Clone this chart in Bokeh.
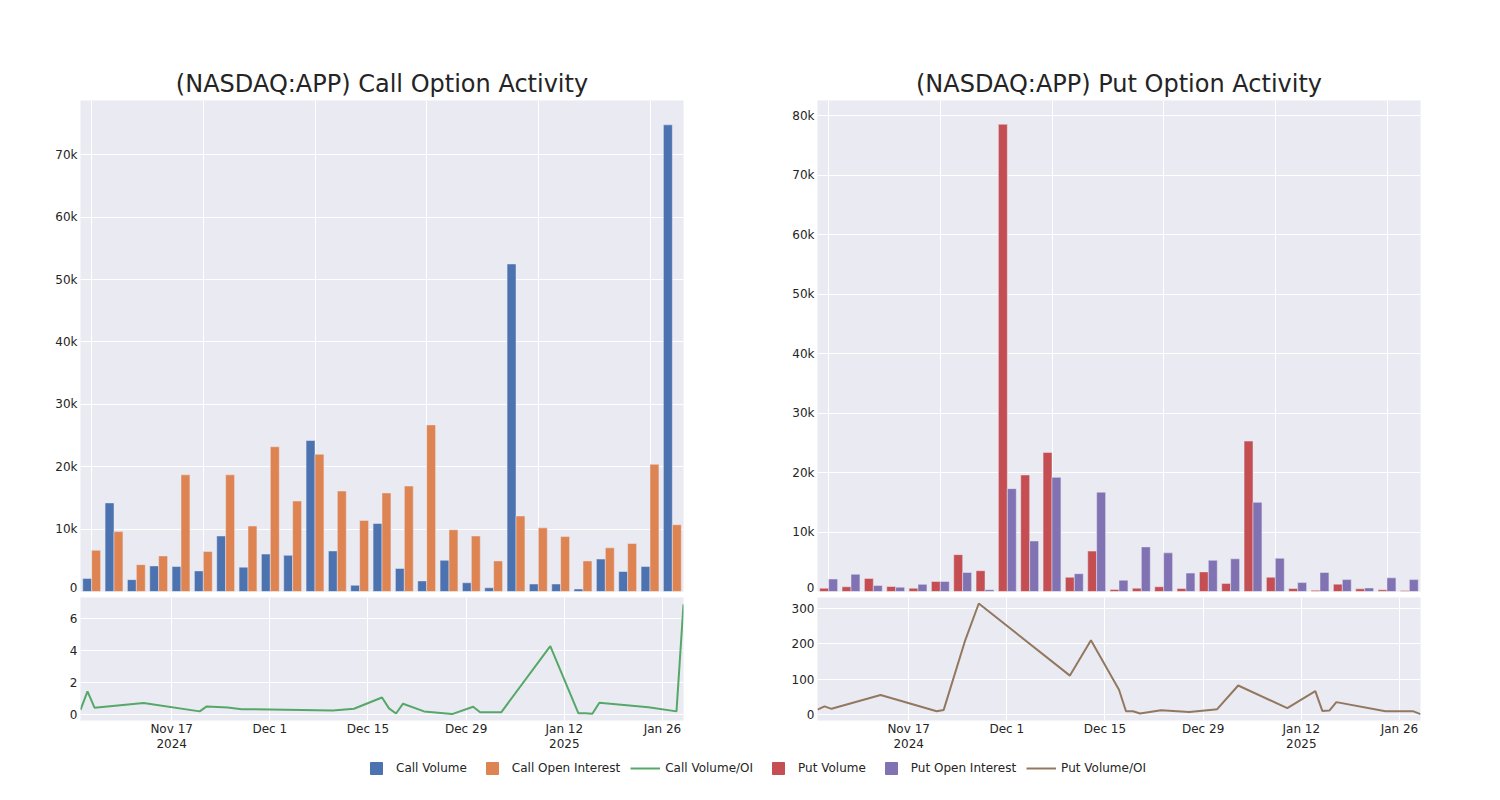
import pandas as pd
from bokeh.plotting import figure
from bokeh.models import (Range1d, FixedTicker, SingleIntervalTicker, NumeralTickFormatter,
                          Legend, LegendItem, ColumnDataSource)
from bokeh.layouts import column, row
from bokeh.transform import dodge
from bokeh.embed import file_html
from bokeh.resources import INLINE

# ---------------- data ----------------
dates = ["2024-11-04", "2024-11-05", "2024-11-06", "2024-11-13", "2024-11-21", "2024-11-22",
         "2024-11-25", "2024-11-27", "2024-12-10", "2024-12-13", "2024-12-17", "2024-12-18",
         "2024-12-19", "2024-12-20", "2024-12-23", "2024-12-27", "2024-12-30", "2024-12-31",
         "2025-01-03", "2025-01-10", "2025-01-14", "2025-01-15", "2025-01-16", "2025-01-17",
         "2025-01-24", "2025-01-28", "2025-01-29"]

call_volume = [2100, 14200, 1900, 4100, 4000, 3300, 8900, 3900, 6000, 5800, 24200, 6500, 1000, 10900,
               3700, 1700, 5000, 1400, 600, 52500, 1200, 1200, 400, 5200, 3200, 4000, 74800]
call_oi = [6600, 9600, 4300, 5700, 18700, 6400, 18700, 10500, 23200, 14500, 22000, 16100, 11400, 15800,
           16900, 26700, 9900, 8900, 4900, 12100, 10200, 8800, 4900, 7000, 7700, 20400, 10700]
call_ratio = [0.31, 1.46, 0.44, 0.73, 0.21, 0.52, 0.46, 0.35, 0.27, 0.375, 1.08, 0.40, 0.08, 0.69,
              0.21, 0.04, 0.50, 0.15, 0.15, 4.29, 0.10, 0.10, 0.06, 0.75, 0.47, 0.21, 6.90]

put_volume = [560, 800, 2200, 840, 560, 1700, 6200, 3500, 78600, 19600, 23400, 2400, 6800, 340,
              560, 800, 500, 3300, 1360, 25300, 2400, 500, 200, 1240, 450, 280, 170]
put_oi = [2100, 2900, 1000, 730, 1200, 1700, 3200, 300, 17300, 8500, 19200, 3000, 16700, 1900,
          7500, 6500, 3100, 5250, 5500, 15000, 5600, 1500, 3200, 2000, 600, 2300, 2000]
put_ratio = [14, 23, 16, 55, 9, 13, 206, 314, 110, 210, 70, 9, 9, 3,
             12, 7, 13, 15, 82, 18, 66, 10, 11, 35, 9, 9, 1]

tick_dates = ["2024-11-17", "2024-12-01", "2024-12-15", "2024-12-29", "2025-01-12", "2025-01-26"]
tick_labels = ["Nov 17\n2024", "Dec 1", "Dec 15", "Dec 29", "Jan 12\n2025", "Jan 26"]

series_names = ["Call Volume", "Call Open Interest", "Call Volume/OI",
                "Put Volume", "Put Open Interest", "Put Volume/OI"]
colors = ["#4C72B0", "#DD8452", "#55A868", "#C44E52", "#8172B3", "#937860"]

titles = ["(NASDAQ:APP) Call Option Activity", "(NASDAQ:APP) Put Option Activity"]

# ---------------- sources ----------------
src = ColumnDataSource(dict(
    idx=list(range(len(dates))),
    date=pd.to_datetime(dates),
    call_volume=call_volume, call_oi=call_oi, call_ratio=call_ratio,
    put_volume=put_volume, put_oi=put_oi, put_ratio=put_ratio,
))

FONT = "DejaVu Sans"
TXT = "#242424"
BG = "#EAEAF2"

tick_ms = [pd.Timestamp(d).value / 1e6 for d in tick_dates]


def style(p):
    p.background_fill_color = BG
    p.border_fill_color = "white"
    p.outline_line_color = None
    for g in p.grid:
        g.grid_line_color = "white"
        g.grid_line_width = 1
    for ax in p.axis:
        ax.axis_line_color = None
        ax.major_tick_line_color = None
        ax.minor_tick_line_color = None
        ax.major_tick_in = 0
        ax.major_tick_out = 0
        ax.minor_tick_in = 0
        ax.minor_tick_out = 0
        ax.major_label_text_font = FONT
        ax.major_label_text_font_size = "12px"
        ax.major_label_text_color = TXT
        ax.major_label_standoff = 3


def bar_fig(title, ycol1, ycol2, c1, c2, ymax, left, right):
    frame_w = 603
    p = figure(width=left + frame_w + right, height=100 + 491 + 3,
               x_range=Range1d(-0.5, len(dates) - 0.5), y_range=Range1d(0, ymax),
               min_border_left=left, min_border_right=right, min_border_top=100, min_border_bottom=3,
               toolbar_location=None, output_backend="svg", title=title)
    p.vbar(x=dodge("idx", -0.2), top=ycol1, width=0.4, source=src,
           fill_color=c1, line_color=BG, line_width=0.5)
    p.vbar(x=dodge("idx", 0.2), top=ycol2, width=0.4, source=src,
           fill_color=c2, line_color=BG, line_width=0.5)
    p.xaxis.ticker = FixedTicker(ticks=[0, 5, 10, 15, 20, 25])
    p.xaxis.visible = False
    p.yaxis.ticker = SingleIntervalTicker(interval=10000)
    p.yaxis.formatter = NumeralTickFormatter(format="0a")
    style(p)
    p.title.align = "center"
    p.title.text_font = FONT
    p.title.text_font_size = "24px"
    p.title.text_font_style = "normal"
    p.title.text_color = TXT
    p.title.standoff = 5
    return p


def line_fig(ycol, c, yrange, interval, left, right):
    frame_w = 603
    p = figure(width=left + frame_w + right, height=3 + 123 + 33,
               x_axis_type="datetime",
               x_range=Range1d(pd.Timestamp(dates[0]), pd.Timestamp(dates[-1])),
               y_range=Range1d(*yrange),
               min_border_left=left, min_border_right=right, min_border_top=3, min_border_bottom=33,
               toolbar_location=None, output_backend="svg")
    p.line(x="date", y=ycol, source=src, line_color=c, line_width=2)
    p.xaxis.ticker = FixedTicker(ticks=tick_ms)
    p.xaxis.major_label_overrides = dict(zip(tick_ms, tick_labels))
    p.yaxis.ticker = SingleIntervalTicker(interval=interval)
    style(p)
    p.xaxis.major_label_text_line_height = 1.08
    p.xaxis.major_label_standoff = 1
    return p


LEFT_L, RIGHT_L = 80, 10
LEFT_R, RIGHT_R = 124, 20

barL = bar_fig(titles[0], "call_volume", "call_oi", colors[0], colors[1], 78700, LEFT_L, RIGHT_L)
lineL = line_fig("call_ratio", colors[2], (-0.36, 7.33), 2, LEFT_L, RIGHT_L)
barR = bar_fig(titles[1], "put_volume", "put_oi", colors[3], colors[4], 82600, LEFT_R, RIGHT_R)
lineR = line_fig("put_ratio", colors[5], (-17, 331), 100, LEFT_R, RIGHT_R)

# ---------------- legend strip ----------------
total_w = barL.width + barR.width
lf = figure(width=total_w, height=30, x_range=Range1d(0, 1), y_range=Range1d(0, 1),
            x_axis_location=None, y_axis_location=None, min_border=0,
            toolbar_location=None, output_backend="svg", outline_line_color=None)
lf.grid.visible = False
nan = float("nan")
items = []
for name, col in zip(series_names, colors):
    if name.endswith("/OI"):
        r = lf.line(x=[nan], y=[nan], line_color=col, line_width=2)
    else:
        r = lf.scatter(x=[nan], y=[nan], marker="square", size=12, fill_color=col, line_color=col)
    items.append(LegendItem(label=name, renderers=[r]))
legend = Legend(items=items, orientation="horizontal", location=(361, 0),
                glyph_width=30, glyph_height=30, label_standoff=5, spacing=10,
                padding=0, margin=0, border_line_color=None, background_fill_alpha=0,
                label_text_font=FONT, label_text_font_size="12px", label_text_color=TXT)
lf.add_layout(legend)

layout = column(row(column(barL, lineL), column(barR, lineR)), lf)

open("out.html", "w").write(file_html(layout, INLINE))
